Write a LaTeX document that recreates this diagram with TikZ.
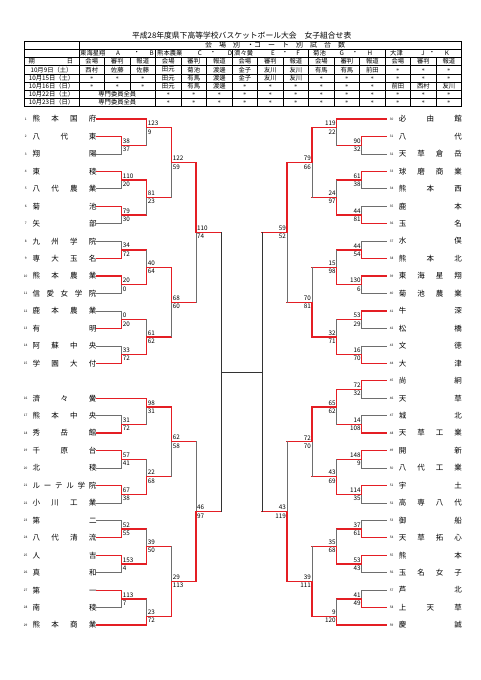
\documentclass[tikz,border=0pt]{standalone}
\usepackage{fontspec}
\setmainfont{Noto Sans CJK JP}
\usetikzlibrary{calc}

\definecolor{winred}{RGB}{228,30,36}
\definecolor{losegray}{RGB}{110,110,110}

\newcommand{\ky}[1]{119+#1*8.725}
\newcommand{\nil}{$\ast$}
\def\spreadA#1#2{#1\ifx\relax#2\else\hfill\expandafter\spreadA\fi#2}
\newcommand{\spread}[2]{\makebox[#1]{\expandafter\spreadA#2\relax}}
% id, x, top, bottom, out, next x, winner, score top, score bottom
\newcommand{\bout}[9]{%
  \coordinate (#1a) at (#2,{\ky{#3}});
  \coordinate (#1b) at (#2,{\ky{#4}});
  \coordinate (#1w) at (#2,{\ky{#7}});
  \coordinate (#1o) at (#2,{\ky{#5}});
  \coordinate (#1n) at (#6,{\ky{#5}});
  \draw[lose] (#1a) -- (#1b);
  \draw[win] (#1w) -- (#1o) -- (#1n);
  \ifdim#6pt>#2pt
    \node[score,anchor=south west] (#1s) at (#1o) {#8};
    \node[score,anchor=north west] (#1t) at (#1o) {#9};
  \else
    \node[score,anchor=south east] (#1s) at (#1o) {#8};
    \node[score,anchor=north east] (#1t) at (#1o) {#9};
  \fi
}

\begin{document}
\begin{tikzpicture}[x=1pt,y=-1pt,line cap=rect]
  \tikzstyle{win}=[draw=winred,line width=1.3pt]
  \tikzstyle{lose}=[draw=losegray,line width=0.7pt]
  \tikzstyle{final}=[draw=black!80,line width=0.7pt]
  \tikzstyle{team}=[inner sep=0pt,font=\fontsize{7.5}{8}\selectfont]
  \tikzstyle{num}=[inner sep=0pt,font=\fontsize{3.2}{3.5}\selectfont]
  \tikzstyle{score}=[inner xsep=1pt,inner ysep=1.6pt,font=\fontsize{6.3}{7}\selectfont]
  \tikzstyle{cell}=[inner sep=0pt,font=\fontsize{6.3}{7}\selectfont]
  \tikzstyle{rule}=[draw=black,line width=0.4pt]

  \useasboundingbox (0,0) rectangle (481,680);

  \node[font=\fontsize{7.8}{8}\selectfont] (title) at (241.7,36)
    {平成28年度県下高等学校バスケットボール大会　女子組合せ表};

  \draw[line width=0.9pt] (24,41) rectangle (461.7,106.6);
  \draw[line width=0.8pt] (24,49.2) -- (461.7,49.2);
  \foreach \yy in {57.4,65.6,73.8,82,90.2,98.4}
    \draw[rule] (24,\yy) -- (461.7,\yy);
  \draw[rule] (79,41) -- (79,106.6);
  \foreach \g in {1,...,4}
    \draw[rule] ({79+76.54*\g},49.2) -- ({79+76.54*\g},106.6);
  \foreach \j in {4,5,7,8,10,11,13,14}
    \draw[rule] ({79+25.51*\j},57.4) -- ({79+25.51*\j},106.6);
  \foreach \j in {1,2}
    \draw[rule] ({79+25.51*\j},57.4) -- ({79+25.51*\j},90.2);

  \node[cell,font=\fontsize{7}{8}\selectfont] (court) at (275,45.1)
    {会　場　別　・コ　ー　ト　別　試　合　数};
  \foreach \nm/\xn/\la/\xa/\xd/\lb/\xb [count=\g] in
    {東海星翔/80/A/118/136.7/B/151.7, 熊本農業/157/C/200/213/D/230,
     濟々黌/234/E/273/285/F/298, 菊池/313/G/341.7/355/H/370,
     大津/390/J/423/432/K/447}
  {
    \node[cell,anchor=west] (venue\g) at (\xn,53.3) {\nm};
    \node[cell] (lA\g) at (\xa,53.3) {\la};
    \node[cell] (dot\g) at (\xd,53.3) {・};
    \node[cell] (lB\g) at (\xb,53.3) {\lb};
  }
  \node[cell] (kijitsu) at (50.9,61.5) {\makebox[44.6pt]{期\hfill 日}};
  \foreach \g in {0,...,4}
    \foreach \v [count=\s from 0] in {会場,審判,報道}
      \node[cell] (hd\g\s) at ({79+25.51*(3*\g+\s+0.5)},61.5) {\v};
  \foreach \dt [count=\r] in {10月9日（土）,10月15日（土）,10月16日（日）,10月22日（土）,10月23日（日）}
    \node[cell] (day\r) at (51.5,{61.5+8.2*\r}) {\dt};
  \foreach \v [count=\j from 0] in {西村,佐藤,佐藤,田元,菊池,渡邊,金子,友川,友川,有馬,有馬,前田,\nil,\nil,\nil}
    \node[cell] (ca\j) at ({79+25.51*(\j+0.5)},69.7) {\v};
  \foreach \v [count=\j from 0] in {\nil,\nil,\nil,田元,有馬,渡邊,金子,友川,友川,\nil,\nil,\nil,\nil,\nil,\nil}
    \node[cell] (cb\j) at ({79+25.51*(\j+0.5)},77.9) {\v};
  \foreach \v [count=\j from 0] in {\nil,\nil,\nil,田元,有馬,渡邊,\nil,\nil,\nil,\nil,\nil,\nil,前田,西村,友川}
    \node[cell] (cc\j) at ({79+25.51*(\j+0.5)},86.1) {\v};
  \node[cell] (cd0) at (117.3,94.3) {専門委員全員};
  \node[cell] (ce0) at (117.3,102.5) {専門委員全員};
  \foreach \j in {3,...,14}
  {
    \node[cell] (cd\j) at ({79+25.51*(\j+0.5)},94.3) {\nil};
    \node[cell] (ce\j) at ({79+25.51*(\j+0.5)},102.5) {\nil};
  }

  \foreach \i/\k/\nm/\xe/\st in
    {1/0/熊本国府/146.7/win, 2/2/八代東/121.7/win, 3/4/翔陽/121.7/lose,
     4/6/東稜/121.7/win, 5/8/八代農業/121.7/lose, 6/10/菊池/121.7/win,
     7/12/矢部/121.7/lose, 8/14/九州学院/121.7/lose, 9/16/専大玉名/121.7/win,
     10/18/熊本農業/121.7/win, 11/20/信愛女学院/121.7/lose, 12/22/鹿本農業/121.7/lose,
     13/24/有明/121.7/win, 14/26/阿蘇中央/121.7/lose, 15/28/学園大付/121.7/win,
     16/32/濟々黌/146.7/win, 17/34/熊本中央/121.7/lose, 18/36/秀岳館/121.7/win,
     19/38/千原台/121.7/win, 20/40/北稜/121.7/lose, 21/42/ルーテル学院/121.7/win,
     22/44/小川工業/121.7/lose, 23/46/第二/121.7/lose, 24/48/八代清流/121.7/win,
     25/50/人吉/121.7/win, 26/52/真和/121.7/lose, 27/54/第一/121.7/win,
     28/56/南稜/121.7/lose, 29/58/熊本商業/146.7/win}
  {
    \node[num] (no\i) at (25.7,{\ky{\k}}) {\i};
    \node[team,anchor=west] (tm\i) at (32.3,{\ky{\k}}) {\spread{64pt}{\nm}};
    \coordinate (ts\i) at (96.7,{\ky{\k}});
    \coordinate (te\i) at (\xe,{\ky{\k}});
    \draw[\st] (ts\i) -- (te\i);
  }
  \foreach \i/\k/\nm/\xe/\st in
    {30/0/必由館/336.7/win, 31/2/八代/361.7/win, 32/4/天草倉岳/361.7/lose,
     33/6/球磨商業/361.7/win, 34/8/熊本西/361.7/lose, 35/10/鹿本/361.7/lose,
     36/12/玉名/361.7/win, 37/14/水俣/361.7/lose, 38/16/熊本北/361.7/win,
     39/18/東海星翔/361.7/win, 40/20/菊池農業/361.7/lose, 41/22/牛深/361.7/win,
     42/24/松橋/361.7/lose, 43/26/文徳/361.7/lose, 44/28/大津/361.7/win,
     45/30/尚絅/361.7/win, 46/32/天草/361.7/lose, 47/34/城北/361.7/lose,
     48/36/天草工業/361.7/win, 49/38/開新/361.7/win, 50/40/八代工業/361.7/lose,
     51/42/宇土/361.7/win, 52/44/高専八代/361.7/lose, 53/46/御船/361.7/lose,
     54/48/天草拓心/361.7/win, 55/50/熊本/361.7/win, 56/52/玉名女子/361.7/lose,
     57/54/芦北/361.7/lose, 58/56/上天草/361.7/win, 59/58/慶誠/336.7/win}
  {
    \node[num] (no\i) at (391.7,{\ky{\k}}) {\i};
    \node[team,anchor=east] (tm\i) at (462,{\ky{\k}}) {\spread{63pt}{\nm}};
    \coordinate (ts\i) at (386.7,{\ky{\k}});
    \coordinate (te\i) at (\xe,{\ky{\k}});
    \draw[\st] (ts\i) -- (te\i);
  }

  \bout{L1}{121.7}{2}{4}{3}{146.7}{2}{38}{37}
  \bout{L2}{121.7}{6}{8}{7}{146.7}{6}{110}{20}
  \bout{L3}{121.7}{10}{12}{11}{146.7}{10}{79}{30}
  \bout{L4}{121.7}{14}{16}{15}{146.7}{16}{34}{72}
  \bout{L5}{121.7}{18}{20}{19}{146.7}{18}{20}{0}
  \bout{L6}{121.7}{22}{24}{23}{146.7}{24}{0}{20}
  \bout{L7}{121.7}{26}{28}{27}{146.7}{28}{33}{72}
  \bout{L8}{121.7}{34}{36}{35}{146.7}{36}{31}{72}
  \bout{L9}{121.7}{38}{40}{39}{146.7}{38}{57}{41}
  \bout{L10}{121.7}{42}{44}{43}{146.7}{42}{67}{38}
  \bout{L11}{121.7}{46}{48}{47}{146.7}{48}{52}{55}
  \bout{L12}{121.7}{50}{52}{51}{146.7}{50}{153}{4}
  \bout{L13}{121.7}{54}{56}{55}{146.7}{54}{113}{7}
  \bout{L14}{146.7}{0}{3}{1}{171.7}{0}{123}{9}
  \bout{L15}{146.7}{7}{11}{9}{171.7}{7}{81}{23}
  \bout{L16}{146.7}{15}{19}{17}{171.7}{19}{40}{64}
  \bout{L17}{146.7}{23}{27}{25}{171.7}{27}{61}{62}
  \bout{L18}{146.7}{32}{35}{33}{171.7}{32}{98}{31}
  \bout{L19}{146.7}{39}{43}{41}{171.7}{43}{22}{68}
  \bout{L20}{146.7}{47}{51}{49}{171.7}{51}{39}{50}
  \bout{L21}{146.7}{55}{58}{57}{171.7}{58}{23}{72}
  \bout{L22}{171.7}{1}{9}{5}{196}{1}{122}{59}
  \bout{L23}{171.7}{17}{25}{21}{196}{17}{68}{60}
  \bout{L24}{171.7}{33}{41}{37}{196}{33}{62}{58}
  \bout{L25}{171.7}{49}{57}{53}{196}{57}{29}{113}
  \bout{L26}{196}{5}{21}{13}{221}{5}{110}{74}
  \bout{L27}{196}{37}{53}{45}{221}{53}{46}{97}

  \bout{R1}{361.7}{2}{4}{3}{336.7}{2}{90}{32}
  \bout{R2}{361.7}{6}{8}{7}{336.7}{6}{61}{38}
  \bout{R3}{361.7}{10}{12}{11}{336.7}{12}{44}{81}
  \bout{R4}{361.7}{14}{16}{15}{336.7}{16}{44}{54}
  \bout{R5}{361.7}{18}{20}{19}{336.7}{18}{130}{6}
  \bout{R6}{361.7}{22}{24}{23}{336.7}{22}{53}{29}
  \bout{R7}{361.7}{26}{28}{27}{336.7}{28}{16}{70}
  \bout{R8}{361.7}{30}{32}{31}{336.7}{30}{72}{32}
  \bout{R9}{361.7}{34}{36}{35}{336.7}{36}{14}{108}
  \bout{R10}{361.7}{38}{40}{39}{336.7}{38}{148}{9}
  \bout{R11}{361.7}{42}{44}{43}{336.7}{42}{114}{35}
  \bout{R12}{361.7}{46}{48}{47}{336.7}{48}{37}{61}
  \bout{R13}{361.7}{50}{52}{51}{336.7}{50}{53}{43}
  \bout{R14}{361.7}{54}{56}{55}{336.7}{56}{41}{49}
  \bout{R15}{336.7}{0}{3}{1}{312}{0}{119}{22}
  \bout{R16}{336.7}{7}{11}{9}{312}{11}{24}{97}
  \bout{R17}{336.7}{15}{19}{17}{312}{19}{15}{98}
  \bout{R18}{336.7}{23}{27}{25}{312}{27}{32}{71}
  \bout{R19}{336.7}{31}{35}{33}{312}{31}{65}{62}
  \bout{R20}{336.7}{39}{43}{41}{312}{43}{43}{69}
  \bout{R21}{336.7}{47}{51}{49}{312}{51}{35}{68}
  \bout{R22}{336.7}{55}{58}{57}{312}{58}{9}{120}
  \bout{R23}{312}{1}{9}{5}{287}{1}{79}{66}
  \bout{R24}{312}{17}{25}{21}{287}{25}{70}{81}
  \bout{R25}{312}{33}{41}{37}{287}{33}{72}{70}
  \bout{R26}{312}{49}{57}{53}{287}{57}{39}{111}
  \bout{R27}{287}{5}{21}{13}{262}{5}{59}{52}
  \bout{R28}{287}{37}{53}{45}{262}{53}{43}{119}

  \coordinate (cl) at (221,{\ky{29}});
  \coordinate (cr) at (262,{\ky{29}});
  \draw[final] (L26n) -- (L27n);
  \draw[final] (R27n) -- (R28n);
  \draw[final] (cl) -- (cr);
\end{tikzpicture}
\end{document}
